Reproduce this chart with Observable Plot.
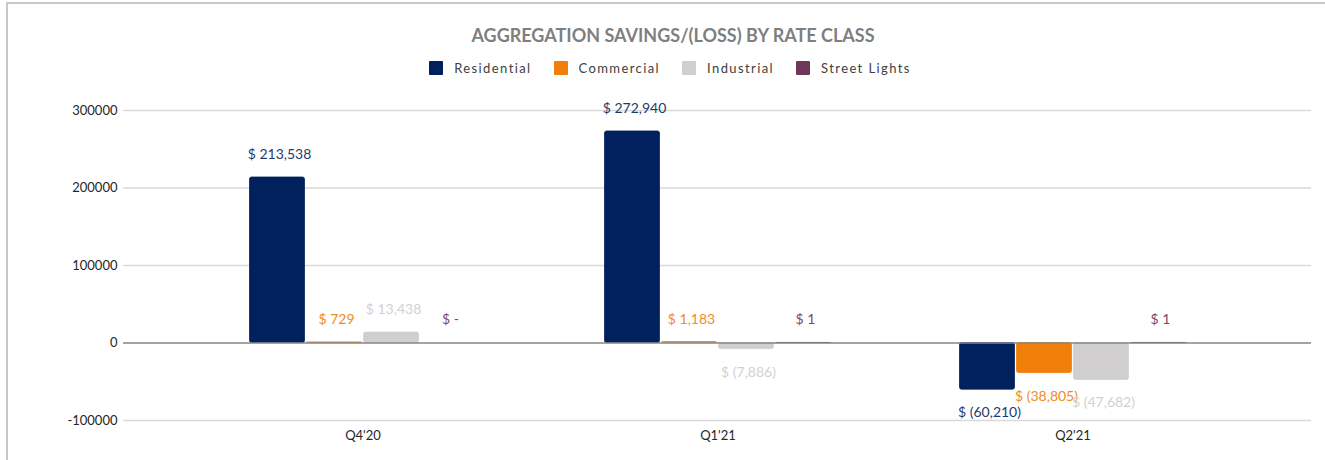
<!DOCTYPE html>
<html>
<head>
<meta charset="utf-8">
<script src="https://cdn.jsdelivr.net/npm/d3@7"></script>
<script src="https://cdn.jsdelivr.net/npm/@observablehq/plot@0.6"></script>
<style>
  html, body { margin: 0; padding: 0; background: #fff; }
  body { width: 1325px; height: 460px; position: relative; overflow: hidden; font-family: Lato, "Open Sans", sans-serif; }
  #frame { position: absolute; left: 6px; top: 2px; width: 1330px; height: 470px; border-top: 2px solid #c8c8c8; border-left: 2px solid #c8c8c8; box-sizing: border-box; }
  #title { position: absolute; top: 24px; left: 0; width: 1346px; text-align: center; font-weight: bold; font-size: 18px; color: #7f7f7f; }
  #legend { position: absolute; top: 60px; left: 0; width: 1340px; display: flex; justify-content: center; gap: 22px; font-size: 13px; letter-spacing: 1.4px; color: #404040; }
  .item { display: flex; align-items: center; gap: 11px; }
  .sw { width: 14px; height: 14px; border-radius: 1px; }
  #chart { position: absolute; top: 90px; left: 0; }
</style>
</head>
<body>
<div id="frame"></div>
<div id="title">AGGREGATION SAVINGS/(LOSS) BY RATE CLASS</div>
<div id="legend"></div>
<div id="chart"></div>
<script>
const quarters = ["Q4'20", "Q1'21", "Q2'21"];
const series = ["Residential", "Commercial", "Industrial", "Street Lights"];
const residential = [213538, 272940, -60210];
const commercial = [729, 1183, -38805];
const industrial = [13438, -7886, -47682];
const streetLights = [0, 1, 1];
const yTicks = [-100000, 0, 100000, 200000, 300000];
const colors = ["#00215e", "#f07f09", "#d0cece", "#6e3658"];
const labelColors = ["#1f3a6e", "#f28a1c", "#d3d1d1", "#7a4a68"];

const valuesBySeries = [residential, commercial, industrial, streetLights];
const rows = [];
series.forEach((s, si) => quarters.forEach((q, qi) => rows.push({quarter: q, series: s, value: valuesBySeries[si][qi]})));

const fmt = v => {
  if (v === 0) return "$ -";
  const s = d3.format(",")(Math.abs(v));
  return v < 0 ? `$ (${s})` : `$ ${s}`;
};

// legend
const legend = document.getElementById("legend");
series.forEach((s, i) => {
  const it = document.createElement("div");
  it.className = "item";
  const sw = document.createElement("div");
  sw.className = "sw";
  sw.style.background = colors[i];
  const tx = document.createElement("span");
  tx.textContent = s;
  it.append(sw, tx);
  legend.append(it);
});

// layout
const W = 1325, mL = 123, mR = 14, padOuter = 0.173;
const step = (W - mL - mR) / (quarters.length + 2 * padOuter);
const barW = 55, barGap = 2;
const inset = (step - barW) / 2;
const offset = i => (i - (series.length - 1) / 2) * (barW + barGap);

const marks = [
  Plot.ruleY(yTicks.filter(t => t !== 0), { stroke: "#d9d9d9", strokeWidth: 1.5 })
];
series.forEach((s, i) => {
  const data = rows.filter(d => d.series === s);
  marks.push(Plot.barY(data, {
    x: "quarter", y: "value", fill: "series", stroke: "series", strokeWidth: 0.8,
    insetLeft: inset, insetRight: inset, dx: offset(i), rx: 2
  }));
});
marks.push(Plot.ruleY([0], { stroke: "#868686", strokeWidth: 1.5 }));
series.forEach((s, i) => {
  marks.push(Plot.text(rows.filter(d => d.series === s && d.value >= 0), {
    x: "quarter", y: "value", text: d => fmt(d.value), dx: offset(i) + 2, dy: -23, fill: labelColors[i], fontSize: 14
  }));
  marks.push(Plot.text(rows.filter(d => d.series === s && d.value < 0), {
    x: "quarter", y: "value", text: d => fmt(d.value), dx: offset(i) + 2, dy: 23, fill: labelColors[i], fontSize: 14
  }));
});

const chart = Plot.plot({
  width: W,
  height: 370,
  marginLeft: mL,
  marginRight: mR,
  marginTop: 20,
  marginBottom: 40,
  style: { fontFamily: "Lato, 'Open Sans', sans-serif", fontSize: "13px", color: "#262626" },
  x: { domain: quarters, paddingInner: 0, paddingOuter: padOuter, label: null, tickSize: 0, tickPadding: 10 },
  y: { domain: [-100000, 300000], ticks: yTicks, tickFormat: d => String(d), label: null, tickSize: 0, tickPadding: 6 },
  color: { domain: series, range: colors },
  marks
});
document.getElementById("chart").append(chart);
</script>
</body>
</html>
